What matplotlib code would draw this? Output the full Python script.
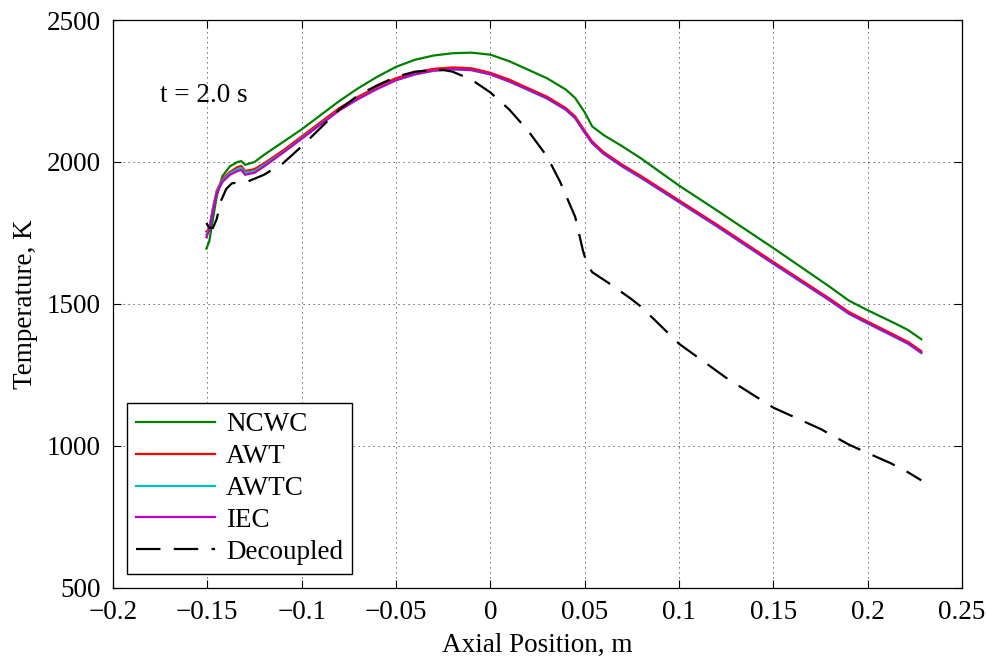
import matplotlib
matplotlib.use("Agg")
import matplotlib.pyplot as plt

plt.rcParams['font.family'] = ['Liberation Serif', 'DejaVu Serif']

x_main = [-0.1505, -0.149, -0.147, -0.145, -0.142, -0.138, -0.134, -0.132, -0.130, -0.125,
          -0.12, -0.11, -0.10, -0.09, -0.08, -0.07, -0.06, -0.05, -0.04, -0.03,
          -0.02, -0.01, 0.0, 0.01, 0.02, 0.03, 0.04, 0.045, 0.05, 0.054,
          0.06, 0.07, 0.08, 0.10, 0.12, 0.15, 0.18, 0.19, 0.20, 0.215,
          0.2215, 0.2284]

ncwc = [1695, 1720, 1800, 1880, 1950, 1985, 2000, 2003, 1990, 2000,
        2025, 2070, 2115, 2165, 2215, 2260, 2300, 2335, 2360, 2375,
        2383, 2385, 2378, 2355, 2325, 2295, 2255, 2225, 2175, 2125,
        2095, 2055, 2012, 1917, 1830, 1697, 1560, 1512, 1478, 1430,
        1408, 1376]

awt = [1755, 1765, 1840, 1900, 1940, 1965, 1982, 1986, 1968, 1975,
       1995, 2040, 2090, 2140, 2190, 2230, 2265, 2295, 2315, 2328,
       2333, 2330, 2314, 2290, 2260, 2230, 2190, 2160, 2110, 2072,
       2035, 1990, 1950, 1865, 1780, 1648, 1518, 1472, 1438, 1388,
       1366, 1334]

awtc = [1745, 1762, 1835, 1895, 1935, 1960, 1975, 1979, 1962, 1968,
        1989, 2034, 2084, 2134, 2183, 2223, 2258, 2288, 2308, 2321,
        2326, 2323, 2308, 2283, 2253, 2223, 2183, 2153, 2103, 2065,
        2028, 1983, 1943, 1858, 1773, 1641, 1511, 1465, 1431, 1381,
        1359, 1327]

iec = [1735, 1760, 1830, 1890, 1930, 1955, 1968, 1972, 1955, 1962,
       1984, 2032, 2082, 2132, 2182, 2222, 2257, 2288, 2309, 2322,
       2327, 2324, 2309, 2284, 2255, 2225, 2185, 2155, 2104, 2067,
       2030, 1985, 1945, 1860, 1775, 1643, 1513, 1467, 1433, 1383,
       1361, 1329]

x_dec = [-0.1505, -0.149, -0.147, -0.145, -0.143, -0.140, -0.137, -0.133, -0.129, -0.12,
         -0.11, -0.10, -0.09, -0.08, -0.07, -0.06, -0.05, -0.04, -0.03, -0.025,
         -0.02, -0.01, 0.0, 0.01, 0.02, 0.03, 0.037, 0.045, 0.049, 0.0514,
         0.054, 0.062, 0.074, 0.08, 0.10, 0.125, 0.15, 0.175, 0.19, 0.20,
         0.212, 0.2215, 0.2284]
decoupled = [1785, 1768, 1768, 1800, 1860, 1905, 1925, 1928, 1930, 1955,
             1995, 2055, 2120, 2185, 2235, 2270, 2300, 2318, 2324, 2324,
             2318, 2290, 2245, 2185, 2110, 2020, 1930, 1806, 1690, 1637,
             1612, 1577, 1521, 1490, 1360, 1240, 1135, 1060, 1005, 975,
             940, 907, 879]

x_ticks = [-0.2, -0.15, -0.1, -0.05, 0, 0.05, 0.1, 0.15, 0.2, 0.25]
x_ticklabels = ['\u22120.2', '\u22120.15', '\u22120.1', '\u22120.05', '0', '0.05', '0.1', '0.15', '0.2', '0.25']
y_ticks = [500, 1000, 1500, 2000, 2500]

FS = 19.5

fig = plt.figure(figsize=(9.87, 6.58), dpi=100)
ax = fig.add_axes([0.1145, 0.1064, 0.8602, 0.8632])

lw = 1.6
ax.plot(x_main, ncwc, color=(0, 0.5, 0), lw=lw, label='NCWC')
ax.plot(x_main, awt, color=(1, 0, 0), lw=lw, label='AWT')
ax.plot(x_main, awtc, color=(0, 0.75, 0.75), lw=lw, label='AWTC')
ax.plot(x_main, iec, color=(0.75, 0, 0.75), lw=lw, label='IEC')
ax.plot(x_dec, decoupled, color='black', lw=lw, dashes=(11, 6), label='Decoupled')

ax.set_xlim(-0.2, 0.25)
ax.set_ylim(500, 2500)
ax.set_xticks(x_ticks)
ax.set_xticklabels(x_ticklabels)
ax.set_yticks(y_ticks)
ax.tick_params(direction='in', length=6, width=0.8, top=True, right=True, labelsize=FS, colors='black')
ax.tick_params(axis='y', pad=9)
ax.tick_params(axis='x', pad=9)
for s in ax.spines.values():
    s.set_linewidth(0.9)
ax.grid(True, color='black', linestyle=(0, (1.5, 4.5)), linewidth=0.6, alpha=0.8)

ax.set_xlabel('Axial Position, m', fontsize=FS, labelpad=5)
ax.set_ylabel('Temperature, K', fontsize=FS, labelpad=6)

ax.text(-0.175, 2235, 't = 2.0 s', fontsize=FS, va='center', ha='left')

leg = ax.legend(loc='lower left', bbox_to_anchor=(0.0165, 0.0246), borderaxespad=0,
                fontsize=FS, frameon=True, fancybox=False, edgecolor='black', framealpha=1,
                handlelength=2.9, handletextpad=0.4, labelspacing=0.25, borderpad=0.35)
leg.get_frame().set_linewidth(1.0)

fig.savefig('out.png', dpi=100)
